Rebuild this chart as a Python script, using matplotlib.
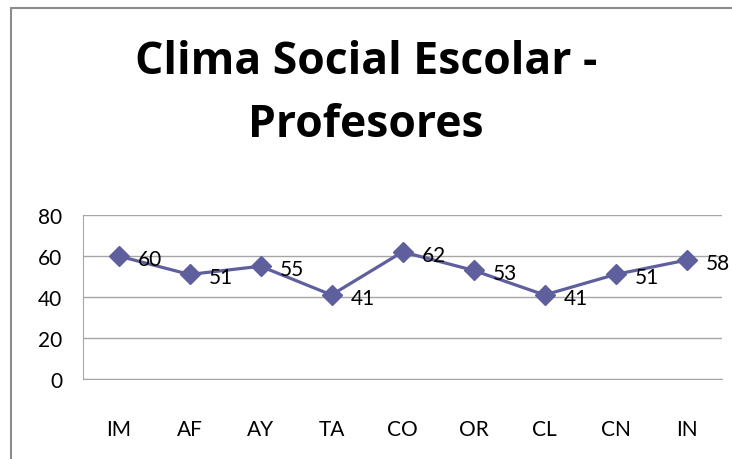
import matplotlib
matplotlib.use("Agg")
import matplotlib.pyplot as plt
from matplotlib.patches import Rectangle

categories = ["IM", "AF", "AY", "TA", "CO", "OR", "CL", "CN", "IN"]
values = [60, 51, 55, 41, 62, 53, 41, 51, 58]
yticks = [0, 20, 40, 60, 80]
title = "Clima Social Escolar -\nProfesores"

plt.rcParams["font.family"] = ["Lato", "DejaVu Sans"]

W, H = 732, 460
fig = plt.figure(figsize=(W / 100, H / 100), dpi=100)

# outer chart frame
fig.patches.append(Rectangle((11 / W, -0.1), 1.2, (H - 9) / H + 0.1,
                             transform=fig.transFigure, fill=False,
                             edgecolor="#8c8c8c", linewidth=1.5))

ax = fig.add_axes([83 / W, (H - 380) / H, (722 - 83) / W, (380 - 216) / H])
x = list(range(len(categories)))
color = "#5f5f9e"
ax.plot(x, values, color=color, linewidth=2.3, marker="D", markersize=10.5,
        markerfacecolor=color, markeredgecolor=color, zorder=3, clip_on=False)

for xi, v in zip(x, values):
    ax.annotate(str(v), (xi, v), xytext=(14, -2), textcoords="offset points",
                ha="left", va="center", fontsize=15, color="black",
                annotation_clip=False, zorder=4)

ax.set_xlim(-0.5, len(categories) - 0.5)
ax.set_ylim(0, 80)
ax.set_yticks(yticks)
ax.set_xticks(x)
ax.set_xticklabels(categories)
ax.tick_params(axis="both", length=0, labelsize=15, colors="black")
ax.tick_params(axis="x", pad=29)
ax.tick_params(axis="y", pad=15)
ax.grid(axis="y", color="#a6a6a6", linewidth=1)
ax.set_axisbelow(True)
for s in ["top", "right"]:
    ax.spines[s].set_visible(False)
ax.spines["left"].set_color("#a6a6a6")
ax.spines["bottom"].set_color("#a6a6a6")

fig.text(0.5, 1 - 94 / H, title, ha="center", va="center", fontsize=32,
         fontweight="bold", linespacing=1.55, family=["Open Sans", "DejaVu Sans"])

fig.savefig("out.png", dpi=100)
